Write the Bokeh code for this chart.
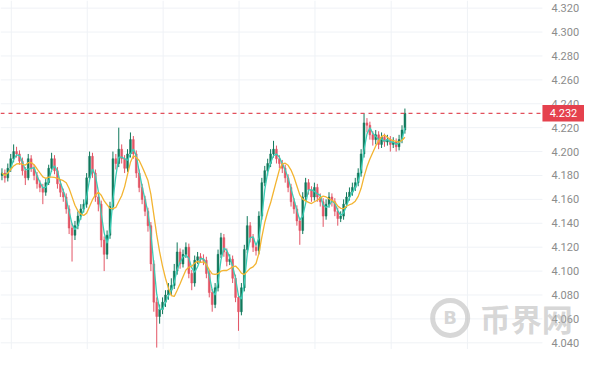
import pandas as pd
from bokeh.plotting import figure
from bokeh.models import Span, Label, BoxAnnotation
from bokeh.core.properties import value
from bokeh.embed import file_html
from bokeh.resources import INLINE

# ---- data ----
first_open = 4.180
close = [
    4.182, 4.178, 4.186, 4.194, 4.200, 4.198, 4.192, 4.184, 4.178, 4.194,
    4.186, 4.180, 4.173, 4.170, 4.166, 4.174, 4.186, 4.194, 4.184, 4.173,
    4.166, 4.162, 4.152, 4.136, 4.130, 4.138, 4.146, 4.152, 4.156, 4.178,
    4.196, 4.182, 4.162, 4.156, 4.126, 4.114, 4.130, 4.154, 4.194, 4.190,
    4.202, 4.194, 4.186, 4.198, 4.210, 4.198, 4.182, 4.170, 4.160, 4.150,
    4.138, 4.106, 4.074, 4.062, 4.068, 4.074, 4.080, 4.084, 4.088, 4.100,
    4.116, 4.106, 4.114, 4.120, 4.098, 4.090, 4.109, 4.112, 4.110, 4.109,
    4.098, 4.082, 4.072, 4.086, 4.114, 4.128, 4.116, 4.108, 4.110, 4.094,
    4.078, 4.066, 4.086, 4.118, 4.138, 4.128, 4.120, 4.117, 4.146, 4.174,
    4.184, 4.190, 4.198, 4.202, 4.194, 4.190, 4.186, 4.178, 4.170, 4.158,
    4.152, 4.142, 4.134, 4.162, 4.174, 4.168, 4.162, 4.170, 4.162, 4.158,
    4.146, 4.156, 4.162, 4.158, 4.150, 4.144, 4.146, 4.156, 4.162, 4.166,
    4.170, 4.174, 4.182, 4.198, 4.224, 4.222, 4.214, 4.210, 4.214, 4.206,
    4.212, 4.208, 4.210, 4.206, 4.208, 4.204, 4.210, 4.218, 4.232,
]
high = [
    4.186, 4.185, 4.190, 4.198, 4.206, 4.204, 4.201, 4.195, 4.187, 4.198,
    4.197, 4.189, 4.183, 4.176, 4.173, 4.177, 4.189, 4.199, 4.197, 4.187,
    4.176, 4.169, 4.165, 4.155, 4.140, 4.142, 4.150, 4.156, 4.160, 4.182,
    4.200, 4.199, 4.185, 4.166, 4.159, 4.129, 4.134, 4.158, 4.200, 4.198,
    4.220, 4.206, 4.197, 4.202, 4.216, 4.213, 4.201, 4.185, 4.173, 4.163,
    4.153, 4.141, 4.109, 4.078, 4.072, 4.078, 4.084, 4.090, 4.094, 4.106,
    4.124, 4.119, 4.118, 4.124, 4.123, 4.101, 4.113, 4.116, 4.115, 4.114,
    4.112, 4.101, 4.085, 4.090, 4.118, 4.132, 4.131, 4.119, 4.114, 4.113,
    4.097, 4.081, 4.090, 4.122, 4.146, 4.141, 4.131, 4.123, 4.150, 4.178,
    4.188, 4.194, 4.202, 4.209, 4.205, 4.197, 4.193, 4.189, 4.181, 4.173,
    4.161, 4.155, 4.145, 4.166, 4.178, 4.177, 4.171, 4.174, 4.173, 4.165,
    4.161, 4.160, 4.166, 4.165, 4.161, 4.153, 4.150, 4.160, 4.166, 4.170,
    4.174, 4.178, 4.186, 4.202, 4.232, 4.228, 4.225, 4.217, 4.218, 4.217,
    4.216, 4.215, 4.214, 4.213, 4.212, 4.211, 4.214, 4.222, 4.236,
]
low = [
    4.176, 4.174, 4.175, 4.183, 4.191, 4.195, 4.189, 4.180, 4.172, 4.176,
    4.183, 4.176, 4.169, 4.166, 4.156, 4.163, 4.172, 4.183, 4.181, 4.169,
    4.162, 4.158, 4.148, 4.131, 4.108, 4.126, 4.135, 4.143, 4.149, 4.153,
    4.175, 4.178, 4.158, 4.150, 4.120, 4.100, 4.110, 4.127, 4.151, 4.185,
    4.187, 4.190, 4.182, 4.183, 4.195, 4.194, 4.178, 4.166, 4.156, 4.146,
    4.133, 4.100, 4.066, 4.036, 4.056, 4.064, 4.070, 4.076, 4.080, 4.085,
    4.097, 4.102, 4.103, 4.111, 4.094, 4.084, 4.087, 4.106, 4.107, 4.105,
    4.094, 4.078, 4.066, 4.069, 4.083, 4.111, 4.112, 4.104, 4.105, 4.090,
    4.074, 4.050, 4.063, 4.083, 4.115, 4.124, 4.116, 4.113, 4.114, 4.143,
    4.171, 4.180, 4.187, 4.195, 4.190, 4.186, 4.182, 4.174, 4.166, 4.154,
    4.148, 4.138, 4.122, 4.131, 4.159, 4.164, 4.158, 4.159, 4.158, 4.154,
    4.137, 4.143, 4.153, 4.154, 4.146, 4.138, 4.141, 4.143, 4.153, 4.159,
    4.163, 4.167, 4.171, 4.179, 4.195, 4.216, 4.210, 4.205, 4.206, 4.202,
    4.203, 4.204, 4.205, 4.200, 4.203, 4.200, 4.201, 4.207, 4.215,
]
price_ticks = [4.04, 4.06, 4.08, 4.10, 4.12, 4.14, 4.16, 4.18, 4.20,
               4.22, 4.24, 4.26, 4.28, 4.30, 4.32]
fast_window = 3
slow_window = 8

# ---- derived ----
opens = [first_open] + close[:-1]
idx = list(range(len(close)))
UP, DOWN = "#11795c", "#e35565"
colors = [UP if c >= o else DOWN for o, c in zip(opens, close)]
tops = [max(o, c) for o, c in zip(opens, close)]
bots = [min(o, c) for o, c in zip(opens, close)]
ma_fast = pd.Series(close).rolling(fast_window, min_periods=1).mean().tolist()
ma_slow = pd.Series(close).rolling(slow_window, min_periods=1).mean().tolist()

# ---- layout constants (styling) ----
W, H = 584, 349
X0, X1 = -0.5, 199.5          # whole canvas width in candle-index units
AXIS_X = 185.1                # where the price scale column begins
LABEL_X = 188.2               # left edge of tick labels
GRID_COLOR = "#eff2f6"

p = figure(width=W, height=H, output_backend="svg", toolbar_location=None,
           x_range=(X0, X1), y_range=(4.0344, 4.3264),
           x_axis_location=None, y_axis_location=None,
           min_border=0)
p.outline_line_color = None
p.background_fill_color = "white"
p.border_fill_color = "white"
p.xgrid.visible = False
p.ygrid.visible = False

# grid
vgrid = [3.2, 29.2, 55.2, 81.2, 107.2, 133.3, 159.4]
p.segment(x0=vgrid, y0=[4.0344] * len(vgrid), x1=vgrid, y1=[4.3264] * len(vgrid),
          line_color=GRID_COLOR, line_width=1)
p.segment(x0=[X0] * len(price_ticks), y0=price_ticks,
          x1=[AXIS_X] * len(price_ticks), y1=price_ticks,
          line_color=GRID_COLOR, line_width=1)

# price scale labels
p.text(x=[LABEL_X] * len(price_ticks), y=price_ticks,
       text=[f"{t:.3f}" for t in price_ticks],
       text_font=value("Roboto"), text_font_size="11px", text_color="#8c8c8c",
       text_align="left", text_baseline="middle")

# watermark
p.scatter(x=[153.5], y=[4.0608], marker="circle", size=35, fill_color=None,
          line_color="#bdbdbd", line_width=5, line_alpha=0.6)
p.text(x=[153.5], y=[4.0608], text=["B"], text_font=value("DejaVu Sans"),
       text_font_style="bold", text_font_size="18px", text_color="#bdbdbd",
       text_alpha=0.6, text_align="center", text_baseline="middle")
p.text(x=[163.6], y=[4.0608], text=["币界网"], text_font=value("Noto Sans CJK SC"),
       text_font_style="bold", text_font_size="31px", text_color="#b5b5b5",
       text_alpha=0.55, text_align="left", text_baseline="middle")

# candles
p.segment(x0=idx, y0=low, x1=idx, y1=high, line_color=colors, line_width=1)
p.vbar(x=idx, width=0.62, top=tops, bottom=bots, fill_color=colors,
       line_color=colors, line_width=0.5)
p.line(idx, ma_fast, line_color="#3acdb5", line_width=1.3)
p.line(idx, ma_slow, line_color="#f3b431", line_width=1.3)

# last price line and tag
last = close[-1]
p.add_layout(Span(location=last, dimension="width", line_color="#e2505c",
                  line_dash="4 4", line_width=1.3))
p.add_layout(BoxAnnotation(left=AXIS_X, bottom=last - 0.0069, top=last + 0.0069,
                           fill_color="#e5414d", fill_alpha=1.0, line_color=None))
p.add_layout(Label(x=(AXIS_X + X1) / 2, y=last, text=f"{last:.3f}",
                   text_font="Roboto", text_font_size="11px", text_color="white",
                   text_align="center", text_baseline="middle"))

open("out.html", "w").write(file_html(p, INLINE))
